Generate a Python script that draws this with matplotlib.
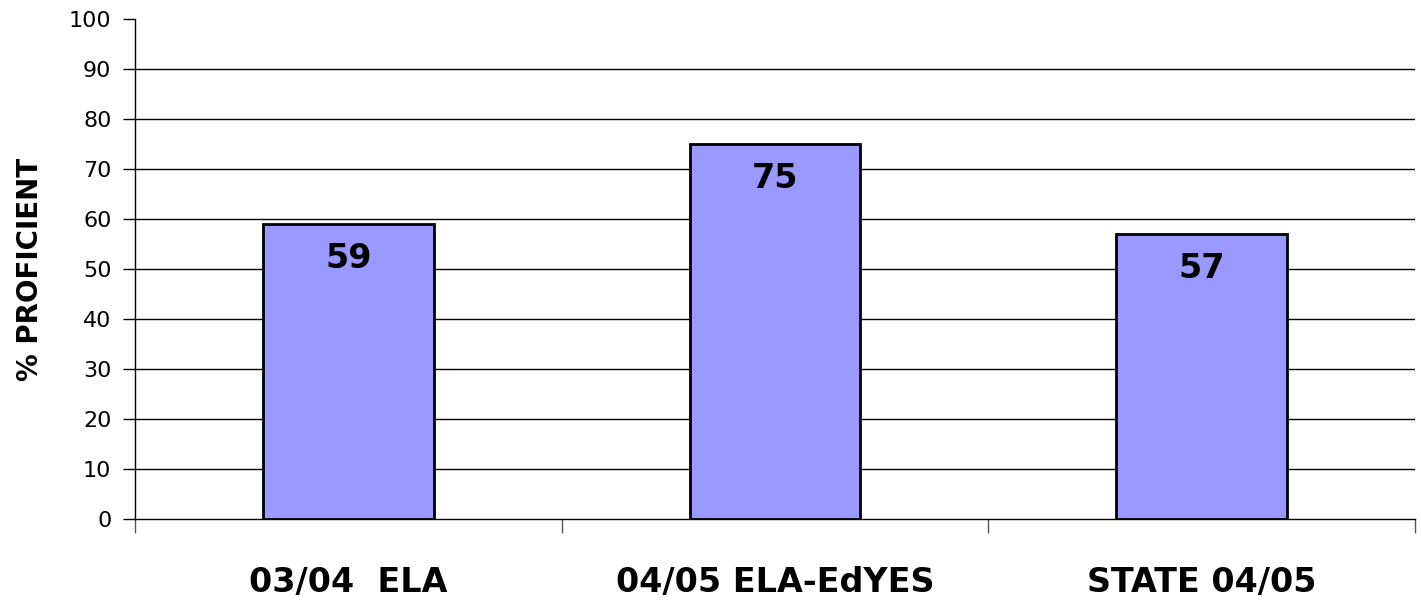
import numpy as np
import matplotlib.pyplot as plt

categories = ['03/04  ELA', '04/05 ELA-EdYES', 'STATE 04/05']
values = [59, 75, 57]
yticks = list(range(0, 101, 10))

fig = plt.figure(figsize=(14.21, 6.09), dpi=100)
ax = fig.add_axes([0.095, 0.1478, 0.9007, 0.821])

x = np.arange(len(categories))
ax.bar(x, values, width=0.4, color='#9999FF', edgecolor='black', linewidth=2, zorder=3)

for xi, v in zip(x, values):
    ax.text(xi, v - 7, str(v), ha='center', va='center', fontsize=24,
            fontweight='bold', color='black', zorder=4)

# gridlines (none at 100)
for t in yticks[1:-1]:
    ax.axhline(t, color='black', linewidth=1, zorder=1)

ax.set_xlim(-0.5, len(categories) - 0.5)
ax.set_ylim(0, 100)
ax.set_yticks(yticks)
ax.tick_params(axis='y', labelsize=16, length=9, width=1, direction='out', pad=8)

# boundary ticks below axis, labels at category centres
ax.set_xticks(np.arange(-0.5, len(categories), 1.0))
ax.set_xticklabels([''] * (len(categories) + 1))
ax.tick_params(axis='x', which='major', length=10, width=1, direction='out', color='#555555')
ax.set_xticks(x, minor=True)
ax.set_xticklabels(categories, minor=True, fontsize=24, fontweight='bold')
ax.tick_params(axis='x', which='minor', length=0, pad=34)

ax.spines['top'].set_visible(False)
ax.spines['right'].set_visible(False)
ax.spines['left'].set_linewidth(1)
ax.spines['bottom'].set_linewidth(1)

ax.set_ylabel('% PROFICIENT', fontsize=20, fontweight='bold', labelpad=18)

fig.savefig('out.png', dpi=100)
